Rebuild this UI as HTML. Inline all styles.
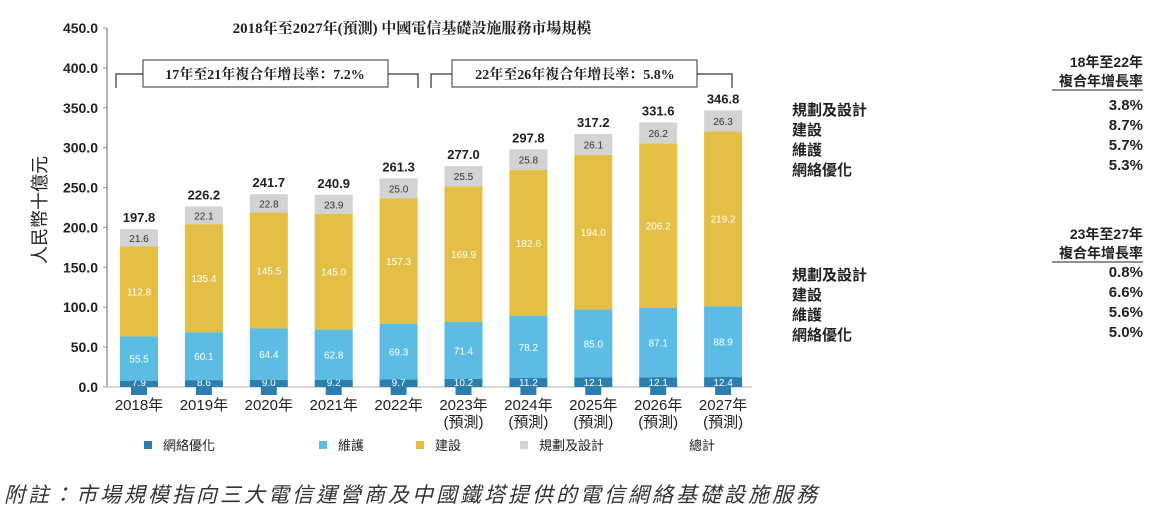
<!DOCTYPE html>
<html><head><meta charset="utf-8">
<style>
body{margin:0;background:#fff;width:1156px;height:514px;overflow:hidden;font-family:"Liberation Sans","Noto Sans CJK TC",sans-serif;}
svg text{font-family:"Liberation Sans","Noto Sans CJK TC",sans-serif;}
</style></head><body>
<svg id="chart" width="1156" height="514" viewBox="0 0 1156 514" xmlns="http://www.w3.org/2000/svg">
<text x="412" y="33" text-anchor="middle" font-size="15" font-weight="bold" fill="#222" style="font-family:'Liberation Serif','Noto Serif CJK SC',serif">2018年至2027年(預測) 中國電信基礎設施服務市場規模</text>
<text transform="translate(46,210) rotate(-90)" text-anchor="middle" font-size="18" fill="#222">人民幣十億元</text>
<g id="axes"></g>
<g id="bars"></g>
<g>
<path d="M116,88 V74 H143 M388,74 H418 V88" stroke="#333" fill="none" stroke-width="1.2"/>
<rect x="143" y="60" width="245" height="27" fill="#fff" stroke="#333" stroke-width="1"/>
<text x="265" y="79" text-anchor="middle" font-size="14" font-weight="bold" fill="#222" style="font-family:'Liberation Serif','Noto Serif CJK SC',serif">17年至21年複合年增長率：7.2%</text>
</g>
<g>
<path d="M431,88 V74 H452 M697,74 H732 V88" stroke="#333" fill="none" stroke-width="1.2"/>
<rect x="452" y="60" width="245" height="27" fill="#fff" stroke="#333" stroke-width="1"/>
<text x="575" y="79" text-anchor="middle" font-size="14" font-weight="bold" fill="#222" style="font-family:'Liberation Serif','Noto Serif CJK SC',serif">22年至26年複合年增長率：5.8%</text>
</g>
<g font-size="13" fill="#222">
<rect x="144" y="441" width="8" height="8" fill="#2a7fae"/><text x="163" y="450">網絡優化</text>
<rect x="319" y="441" width="8" height="8" fill="#5bbde4"/><text x="338" y="450">維護</text>
<rect x="416" y="441" width="8" height="8" fill="#e3bf45"/><text x="435" y="450">建設</text>
<rect x="520" y="441" width="8" height="8" fill="#d3d3d5"/><text x="539" y="450">規劃及設計</text>
<text x="689" y="450">總計</text>
</g>
<g font-size="15" font-weight="bold" fill="#222">
<text x="1143" y="67" text-anchor="end" font-size="14">18年至22年</text>
<text x="1143" y="86" text-anchor="end" font-size="14">複合年增長率</text>
<line x1="1052" y1="90" x2="1143" y2="90" stroke="#222"/>
<text x="792" y="115">規劃及設計</text><text x="1143" y="110" text-anchor="end">3.8%</text>
<text x="792" y="135">建設</text><text x="1143" y="130" text-anchor="end">8.7%</text>
<text x="792" y="155">維護</text><text x="1143" y="150" text-anchor="end">5.7%</text>
<text x="792" y="175">網絡優化</text><text x="1143" y="170" text-anchor="end">5.3%</text>
<text x="1143" y="239" text-anchor="end" font-size="14">23年至27年</text>
<text x="1143" y="258" text-anchor="end" font-size="14">複合年增長率</text>
<line x1="1052" y1="262" x2="1143" y2="262" stroke="#222"/>
<text x="792" y="280">規劃及設計</text><text x="1143" y="277" text-anchor="end">0.8%</text>
<text x="792" y="300">建設</text><text x="1143" y="297" text-anchor="end">6.6%</text>
<text x="792" y="320">維護</text><text x="1143" y="317" text-anchor="end">5.6%</text>
<text x="792" y="340">網絡優化</text><text x="1143" y="337" text-anchor="end">5.0%</text>
</g>
<text x="4" y="502" font-size="21" letter-spacing="3" font-style="italic" fill="#333">附註：市場規模指向三大電信運營商及中國鐵塔提供的電信網絡基礎設施服務</text>
</svg>
<script>
const years=["2018年","2019年","2020年","2021年","2022年","2023年","2024年","2025年","2026年","2027年"];
const forecast=[false,false,false,false,false,true,true,true,true,true];
const optimization=[7.9,8.6,9.0,9.2,9.7,10.2,11.2,12.1,12.1,12.4];
const maintenance=[55.5,60.1,64.4,62.8,69.3,71.4,78.2,85.0,87.1,88.9];
const construction=[112.8,135.4,145.5,145.0,157.3,169.9,182.6,194.0,206.2,219.2];
const planning=[21.6,22.1,22.8,23.9,25.0,25.5,25.8,26.1,26.2,26.3];
const totals=[197.8,226.2,241.7,240.9,261.3,277.0,297.8,317.2,331.6,346.8];
const yTicks=[0,50,100,150,200,250,300,350,400,450];

const NS="http://www.w3.org/2000/svg";
const y0=387,yTop=28,yMax=450;
const yS=v=>y0-v*(y0-yTop)/yMax;
const xC=i=>139+i*64.9;
const bw=38;
function mk(t,a,p){const e=document.createElementNS(NS,t);for(const k in a)e.setAttribute(k,a[k]);p.appendChild(e);return e;}
const ax=document.getElementById('axes'),bg=document.getElementById('bars');
const yl=mk('line',{x1:107,y1:yTop,x2:107,y2:y0,stroke:'#999','stroke-width':1.5},ax);


const xl=mk('line',{x1:107,y1:y0,x2:752,y2:y0,stroke:'#ccc','stroke-width':1.5},ax);


yTicks.forEach(v=>{
  mk('line',{x1:103,y1:yS(v),x2:107,y2:yS(v),stroke:'#999'},ax);
  const t=mk('text',{x:98,y:yS(v)+5,'text-anchor':'end','font-size':14,'font-weight':'bold',fill:'#222'},ax);
  t.textContent=v.toFixed(1);
  
  
});
const series=[[optimization,'#2a7fae','#fff','optimization'],[maintenance,'#5bbde4','#fff','maintenance'],[construction,'#e3bf45','#fff','construction'],[planning,'#d3d3d5','#333','planning']];
years.forEach((yr,i)=>{
  let base=0;const cx=xC(i);
  series.forEach(([arr,col,tc,nm],si)=>{
    const v=arr[i];
    const r=mk('rect',{x:cx-bw/2,y:yS(base+v),width:bw,height:yS(base)-yS(base+v),fill:col},bg);
    
    
    let ly=(yS(base)+yS(base+v))/2+4;
    if(si===0){
      ly=yS(0)-1;
      mk('rect',{x:cx-8,y:yS(0)-13,width:16,height:21,fill:col},bg);
    }
    const t=mk('text',{x:cx,y:ly,'text-anchor':'middle','font-size':10,fill:tc},bg);
    t.textContent=v.toFixed(1);
    
    
    base+=v;
  });
  const tt=mk('text',{x:cx,y:yS(totals[i])-7,'text-anchor':'middle','font-size':13,'font-weight':'bold',fill:'#222'},bg);
  tt.textContent=totals[i].toFixed(1);
  
  
  const xt=mk('text',{x:cx,y:410,'text-anchor':'middle','font-size':15,fill:'#222'},bg);
  xt.textContent=yr;
  
  
  if(forecast[i]){
    const f=mk('text',{x:cx,y:427,'text-anchor':'middle','font-size':15,fill:'#222'},bg);
    f.textContent='(預測)';
    
    
  }
});
</script>
</body></html>
